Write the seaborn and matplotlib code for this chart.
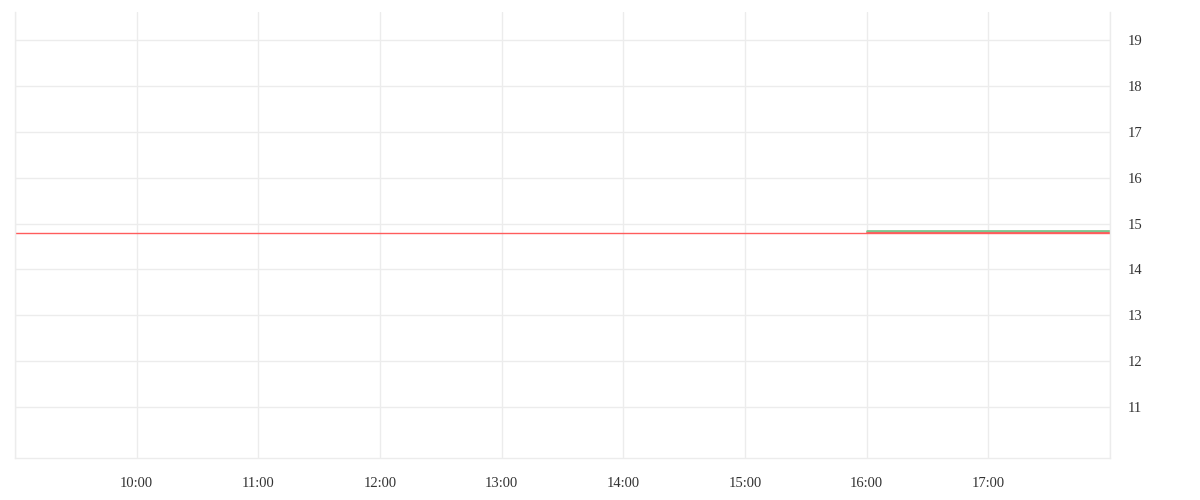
import matplotlib
matplotlib.use('Agg')
from matplotlib import pyplot as plt
import pandas as pd
import seaborn as sns

# reference line (red) over the whole session
ref_times = ['09:00', '18:00']
ref_values = [14.8, 14.8]
# price series (green) from 16:00 on
price_times = ['16:00', '18:00']
price_values = [14.83, 14.83]
hour_ticks = ['09:00', '10:00', '11:00', '12:00', '13:00', '14:00',
              '15:00', '16:00', '17:00', '18:00']
y_ticks = [11, 12, 13, 14, 15, 16, 17, 18, 19]

day = '2024-01-02 '
ref_df = pd.DataFrame({'t': pd.to_datetime([day + t for t in ref_times]), 'v': ref_values})
price_df = pd.DataFrame({'t': pd.to_datetime([day + t for t in price_times]), 'v': price_values})
ticks = pd.to_datetime([day + t for t in hour_ticks])

sns.set_style('white')
plt.rcParams['font.family'] = ['Liberation Serif', 'DejaVu Serif']
grid_c = '#ececec'

fig = plt.figure(figsize=(12, 5), dpi=100)
ax = fig.add_axes([0.0125, 0.084, 0.9125, 0.892])

sns.lineplot(data=price_df, x='t', y='v', ax=ax, color='#7cc58e', lw=2)
sns.lineplot(data=ref_df, x='t', y='v', ax=ax, color='#ff5c5c', lw=1)
sns.lineplot(x=price_df['t'], y=[ref_values[0]] * len(price_df), ax=ax,
             color='#ff5c5c', lw=1.3)

ax.set_xlim(ticks[0], ticks[-1])
ax.set_ylim(9.9, 19.6)
ax.set_xticks(ticks)
ax.set_xticklabels([''] + [t for t in hour_ticks[1:-1]] + [''])
ax.set_yticks(y_ticks)
ax.yaxis.tick_right()
ax.set_xlabel('')
ax.set_ylabel('')

ax.grid(True, color=grid_c, lw=1)
for s in ['left', 'right', 'bottom']:
    ax.spines[s].set_color(grid_c)
    ax.spines[s].set_linewidth(1)
ax.spines['top'].set_visible(False)
ax.tick_params(axis='x', length=6, color=grid_c, width=1, labelsize=10.5,
               labelcolor='#333333', pad=8)
ax.tick_params(axis='y', length=0, labelsize=10.5, labelcolor='#333333', pad=13)

plt.savefig('out.png', dpi=100)
